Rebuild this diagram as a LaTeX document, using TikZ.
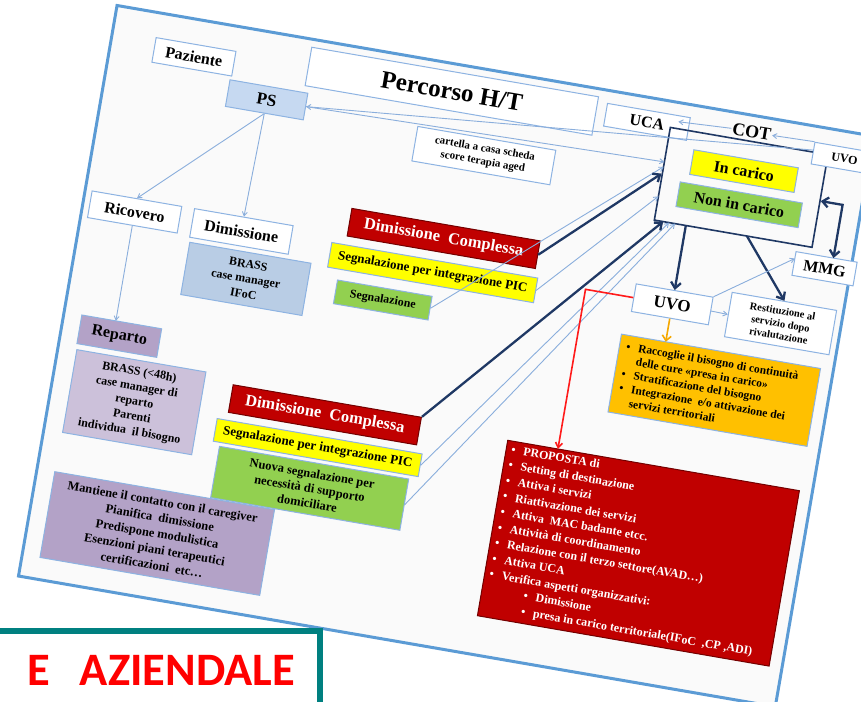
\documentclass[tikz,border=0pt]{standalone}
\usepackage{fontspec}
\setmainfont{Liberation Serif}
\newfontfamily\carlito{Carlito}
\usetikzlibrary{arrows.meta,calc}
\definecolor{slideblue}{HTML}{5B9BD5}
\definecolor{boxblue}{HTML}{8DB3E2}
\definecolor{psfill}{HTML}{C6D9F1}
\definecolor{brassfill}{HTML}{B9CDE5}
\definecolor{redbox}{HTML}{C00000}
\definecolor{yel}{HTML}{FFFF00}
\definecolor{grn}{HTML}{92D050}
\definecolor{lav}{HTML}{B3A2C7}
\definecolor{lavlight}{HTML}{CCC1DA}
\definecolor{orng}{HTML}{FFC000}
\definecolor{orgarrow}{HTML}{F5A800}
\definecolor{navy}{HTML}{1F3864}
\definecolor{thinline}{HTML}{8AAEDC}
\definecolor{tealc}{HTML}{008080}
\definecolor{aziend}{HTML}{FF0000}
\definecolor{slidebg}{HTML}{FAFAFA}
\definecolor{redline}{HTML}{FF1A1A}
\newcommand{\fsz}[2]{\fontsize{#1}{#2}\selectfont}
\tikzset{
  bx/.style={draw=boxblue, line width=1pt, fill=white, inner sep=0pt, align=center, text=black},
  redb/.style={draw=redbox!60!black, line width=1pt, fill=redbox, inner sep=0pt, align=center, text=white},
  thinarr/.style={draw=thinline, line width=0.9pt, -{Straight Barb[length=4pt,width=5pt]}},
  navyarr/.style={draw=navy, line width=2.3pt, -{Straight Barb[length=6pt,width=10pt]}},
  navydbl/.style={draw=navy, line width=2.3pt, {Straight Barb[length=6pt,width=10pt]}-{Straight Barb[length=6pt,width=10pt]}},
  orgarr/.style={draw=orgarrow, line width=1.6pt, -{Straight Barb[length=5pt,width=9pt]}},
  redarr/.style={draw=redline, line width=1.6pt, -{Straight Barb[length=5pt,width=7pt]}},
}
\begin{document}
\begin{tikzpicture}[x=1pt,y=-1pt]
\useasboundingbox (0,0) rectangle (861,701);
\fill[white] (0,0) rectangle (861,701);
\begin{scope}[shift={(120,6)}, rotate=-9.8, transform shape]
  \draw[slideblue, line width=3pt, fill=slidebg] (-3,0) rectangle (765,579);
  % nodes
  \node[bx, minimum width=81pt, minimum height=25pt, font=\fsz{16}{18}\bfseries] (paz) at (81.5,37.5) {Paziente};
  \node[bx, fill=psfill, minimum width=79pt, minimum height=27pt, font=\fsz{17}{19}\bfseries] (ps) at (160.5,67.5) {PS};
  \node[bx, minimum width=291pt, minimum height=39pt, font=\fsz{25}{28}\bfseries] (title) at (341.5,27.5) {Percorso H/T};
  \node[bx, minimum width=84pt, minimum height=23pt, font=\fsz{16}{18}\bfseries] (uca) at (539,24.5) {UCA};
  \node[draw=navy, line width=1.6pt, minimum width=160pt, minimum height=94pt, inner sep=0pt] (cot) at (643,73) {};
  \node[font=\fsz{18}{20}\bfseries, inner sep=1pt] (cottxt) at (644,16.5) {COT};
  \node[bx, minimum width=64pt, minimum height=22pt, font=\fsz{12}{14}\bfseries] (uvot) at (740,27) {UVO};
  \node[bx, fill=yel, minimum width=106pt, minimum height=25pt, font=\fsz{16}{18}\bfseries] (incar) at (643,56.5) {In carico};
  \node[bx, fill=grn, minimum width=124pt, minimum height=25pt, font=\fsz{16}{18}\bfseries] (noninc) at (644,90.5) {Non in carico};
  \node[bx, minimum width=62pt, minimum height=24pt, font=\fsz{16}{18}\bfseries] (mmg) at (739,139) {MMG};
  \node[bx, minimum width=78pt, minimum height=28pt, font=\fsz{17}{19}\bfseries] (uvo) at (595,200) {UVO};
  \node[bx, minimum width=106pt, minimum height=45pt, font=\fsz{10.5}{12.5}\bfseries] (rest) at (705,200.5) {Restituzione al\\servizio dopo\\rivalutazione};
  \node[bx, fill=orng, minimum width=202pt, minimum height=79pt] (orng) at (651,277.5) {};
  \node[anchor=north west, inner sep=0pt, font=\fsz{11.5}{14}\bfseries, align=left] (orngtxt) at (557,243)
    {\begin{tabular}{@{}l@{\hspace{8pt}}l@{}}
      \textbullet & Raccoglie il bisogno di continuità\\
       & delle cure «presa in carico»\\
      \textbullet & Stratificazione del bisogno\\
      \textbullet & Integrazione\ \ e/o attivazione dei\\
       & servizi territoriali
     \end{tabular}};
  \node[redb, minimum width=296pt, minimum height=178pt] (prop) at (604,451) {};
  \node[anchor=north west, inner sep=0pt, text=white, font=\fsz{12}{15.8}\bfseries, align=left] (proptxt) at (461,363)
    {\begin{tabular}{@{}l@{\hspace{8pt}}l@{}}
      \textbullet & PROPOSTA di\\
      \textbullet & Setting di destinazione\\
      \textbullet & Attiva i servizi\\
      \textbullet & Riattivazione dei servizi\\
      \textbullet & Attiva\ \ MAC badante etcc.\\
      \textbullet & Attività di coordinamento\\
      \textbullet & Relazione con il terzo settore(AVAD…)\\
      \textbullet & Attiva UCA\\
      \textbullet & Verifica aspetti organizzativi:\\
       & \hspace{25pt}\textbullet\hspace{8pt}Dimissione\\
       & \hspace{25pt}\textbullet\hspace{8pt}presa in carico territoriale(IFoC\ \ ,CP ,ADI)
     \end{tabular}};
  \node[bx, minimum width=140pt, minimum height=35pt, font=\fsz{11}{13}\bfseries] (cart) at (384,85.5) {cartella a casa scheda\\score terapia aged};
  \node[bx, minimum width=91pt, minimum height=27pt, font=\fsz{16}{18}\bfseries] (ric) at (49.5,200.5) {Ricovero};
  \node[bx, minimum width=100pt, minimum height=29pt, font=\fsz{16}{18}\bfseries] (dim) at (158,201.5) {Dimissione};
  \node[bx, fill=brassfill, minimum width=123pt, minimum height=53pt, font=\fsz{12}{15}\bfseries] (brass) at (170.5,247.5) {BRASS\\case manager\\IFoC};
  \node[bx, fill=lav, minimum width=81pt, minimum height=29pt, font=\fsz{16}{18}\bfseries] (rep) at (55.5,325.5) {Reparto};
  \node[bx, fill=lavlight, minimum width=131pt, minimum height=84pt, font=\fsz{12}{15}\bfseries] (brass2) at (81.5,388) {BRASS (<48h)\\case manager di\\reparto\\Parenti\\individua\ \ il bisogno};
  \node[bx, fill=lav, minimum width=223pt, minimum height=87pt, font=\fsz{12.5}{16}\bfseries] (lavb) at (126.5,513.5) {Mantiene il contatto con il caregiver\\Pianifica\ \ dimissione\\Predispone modulistica\\Esenzioni piani terapeutici\\certificazioni\ \ etc…};
  \node[redb, minimum width=191pt, minimum height=28pt, font=\fsz{16.5}{18}\bfseries] (red1) at (358.5,174) {Dimissione\ \ Complessa};
  \node[bx, fill=yel, minimum width=209pt, minimum height=25pt, font=\fsz{13}{15}\bfseries] (yel1) at (353.5,209.5) {Segnalazione per integrazione PIC};
  \node[bx, fill=grn, minimum width=96pt, minimum height=24pt, font=\fsz{12}{14}\bfseries] (grn1) at (309,245) {Segnalazione};
  \node[redb, minimum width=191pt, minimum height=28pt, font=\fsz{16.5}{18}\bfseries] (red2) at (271.5,368) {Dimissione\ \ Complessa};
  \node[bx, fill=yel, minimum width=208pt, minimum height=23pt, font=\fsz{13}{15}\bfseries] (yel2) at (270,401.5) {Segnalazione per integrazione PIC};
  \node[bx, fill=grn, minimum width=192pt, minimum height=52pt, font=\fsz{12.5}{15}\bfseries] (grn2) at (269,443) {Nuova segnalazione per\\necessità di supporto\\domiciliare};
  % coordinates
  \coordinate (uvotIn) at (708,24);
  \coordinate (cotW1) at (563,61);
  \coordinate (ucaIn) at (570,19);
  \coordinate (cotW2) at (563,66);
  \coordinate (cotW3) at (563,96);
  \coordinate (cotB1) at (572,120);
  \coordinate (cotB2) at (578,120);
  \coordinate (cotB3) at (584,120);
  \coordinate (cotU) at (595,120);
  \coordinate (cotR) at (657,120);
  \coordinate (mA) at (746,73);
  \coordinate (mmgT) at (746,127);
  \coordinate (mmgW) at (708,134);
  \coordinate (orgT) at (595,238);
  \coordinate (rA) at (507,200);
  \coordinate (rB) at (507,362);
  \coordinate (repT) at (49.5,311);
  % connectors
  \draw[thinarr] (ps.south) -- (ric.north);
  \draw[thinarr] (ps.south) -- (dim.north);
  \draw[thinarr] (ric.south) -- (repT);
  \draw[thinarr] (uvotIn) -- (ps.east);
  \draw[thinarr] (ps.east) -- (cotW1);
  \draw[thinarr] (uvot.north west) -- (cottxt.east);
  \draw[thinarr] (cottxt.west) -- (ucaIn);
  \draw[thinarr] (grn1.east) -- (cotW2);
  \draw[thinarr] (yel1.east) -- (cotW3);
  \draw[thinarr] (yel2.east) -- (cotB2);
  \draw[thinarr] (grn2.east) -- (cotB3);
  \draw[navyarr] (red1.east) -- (cot.west);
  \draw[navyarr] (red2.north east) -- (cotB1);
  \draw[navyarr] (cotU) -- (uvo.north);
  \draw[navyarr] (cotR) -- (rest.north);
  \draw[navydbl] (cot.east) -- (mA) -- (mmgT);
  \draw[thinarr] (uvo.north east) -- (mmgW);
  \draw[thinarr] (uvo.east) -- (rest.west);
  \draw[orgarr] (uvo.south) -- (orgT);
  \draw[redarr] (uvo.west) -- (rA) -- (rB);
\end{scope}
% teal frame bottom left
\fill[white] (0,631) rectangle (320,705);
\draw[tealc, line width=6pt] (-5,631) -- (320,631) -- (320,710);
\node[anchor=base west, inner sep=0pt, text=aziend, font=\carlito\bfseries\fsz{46.5}{50}] (az) at (27,685) {E\hspace{30pt}AZIENDALE};
\end{tikzpicture}
\end{document}
